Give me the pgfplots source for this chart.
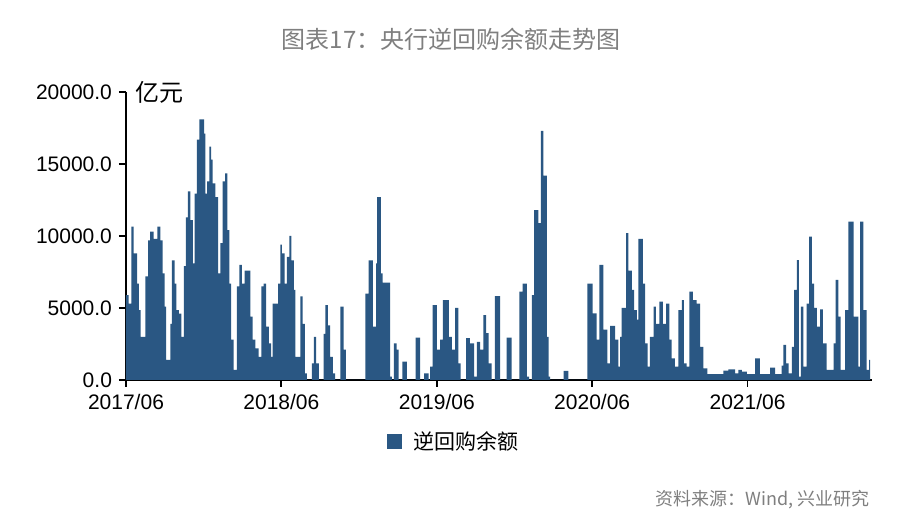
\documentclass[border=0pt]{standalone}
\usepackage{fontspec}
\setmainfont{Liberation Sans}
\newfontfamily\cjk{Noto Sans CJK SC}
\usepackage{pgfplots}
\pgfplotsset{compat=1.18}
\definecolor{barblue}{HTML}{2A5783}
\definecolor{titlegray}{HTML}{7F7F7F}

\begin{document}
\begin{tikzpicture}[x=1pt,y=1pt]
\useasboundingbox (0,0) rectangle (451,264);
\node[font=\cjk\fontsize{12}{12}\selectfont, text=titlegray] at (225.5,244.5) {图表17：央行逆回购余额走势图};
\node[font=\cjk\fontsize{9}{9}\selectfont, text=titlegray, anchor=east, inner sep=0pt] at (435,14) {资料来源：Wind, 兴业研究};

\begin{axis}[
  at={(63pt,74pt)}, anchor=south west,
  scale only axis, width=373pt, height=144pt,
  xmin=0, xmax=250.3, ymin=0, ymax=20000,
  axis x line=bottom, axis y line=left,
  axis line style={-, line width=0.9pt, black},
  xtick={0,52.14,104.28,156.42,208.56},
  xticklabels={2017/06,2018/06,2019/06,2020/06,2021/06},
  ytick={0,5000,10000,15000,20000},
  yticklabels={0.0,5000.0,10000.0,15000.0,20000.0},
  scaled y ticks=false,
  tick align=outside, major tick length=3.5pt,
  tick style={black, line width=0.9pt},
  ticklabel style={font=\fontsize{10.5}{10.5}\selectfont},
  legend style={at={(0.441,-0.215)}, anchor=center, draw=none, fill=none,
    font=\cjk\fontsize{10.5}{10.5}\selectfont},
  legend image code/.code={\fill[barblue] (0pt,-3.75pt) rectangle (7.5pt,3.75pt);},
  clip=false
]
% weekly reading of the reverse-repo balance (x: weeks since 2017/06)
\addplot[const plot, fill=barblue, draw=none] coordinates {
(0,5900) (0.9,5300) (1.8,10650) (2.6,8800) (3.7,6700) (4.3,4860) (4.9,3000)
(6.5,7200) (7.4,9700) (8.1,10300) (9.3,9800) (10.5,10650) (11.5,9700) (12.3,7400)
(13.0,5100) (13.5,1400) (14.9,3900) (15.4,8300) (16.3,6700) (16.9,4860) (17.7,4600)
(18.6,3000) (19.4,7900) (20.1,11300) (20.8,13100) (21.6,11100) (22.4,8100) (23.0,12950)
(23.8,16700) (24.6,18100) (26.2,17100) (26.6,12950) (27.2,13800) (28.0,16200) (28.6,15300)
(29.1,13650) (30.0,12700) (30.9,7400) (31.7,9500) (32.4,13800) (33.3,14350) (34.0,10400)
(34.7,6700) (35.3,2800) (36.1,700) (37.2,6500) (38.0,8000) (38.9,6700) (39.8,7600)
(41.7,4400) (42.5,2800) (43.4,2200) (44.5,1600) (45.4,6500) (46.2,6700) (47.0,3700)
(47.9,2550) (48.7,1600) (49.2,5300) (51.0,6700) (51.8,9400) (52.3,8800) (53.2,6700)
(54.0,8550) (54.8,10000) (55.5,8300) (56.3,6250) (56.8,1600) (58.5,5800) (59.3,3900)
(60.0,460) (60.7,0) (62.4,1150) (63.0,3000) (63.8,1150) (64.7,0) (66.3,3200)
(66.9,5200) (67.7,3800) (68.5,1600) (69.4,460) (70.2,0) (71.9,5100) (73.0,2100)
(73.8,0) (80.3,6000) (81.4,8300) (82.8,3700) (83.9,8100) (84.3,12700) (85.5,7400)
(86.1,6760) (88.6,230) (89.2,0) (89.9,2550) (90.8,2100) (91.5,0) (92.7,1270)
(94.2,0) (97.2,2940) (98.7,0) (100.0,460) (101.5,0) (102.0,930) (102.9,5200)
(104.3,2100) (105.4,2800) (106.3,5550) (108.3,3000) (109.3,2100) (110.4,5000) (111.5,1150)
(112.3,0) (114.1,2900) (115.4,2550) (116.8,230) (117.7,2650) (118.8,2100) (119.9,4500)
(120.8,3250) (121.7,1150) (122.7,0) (123.8,5830) (125.5,0) (127.7,2940) (129.4,0)
(132.0,6130) (133.1,6700) (134.5,230) (135.3,0) (136.2,5900) (136.9,11800) (138.4,10900)
(139.2,17300) (140.0,14200) (141.2,3000) (141.8,230) (142.3,0) (146.8,625) (148.4,0)
(154.8,6700) (156.6,4630) (157.9,2800) (158.8,8000) (160.2,3500) (161.5,1150) (162.4,3750)
(164.1,2800) (165.2,930) (165.8,3000) (166.3,5000) (167.8,10200) (168.6,7600) (169.7,6250)
(170.5,4860) (171.4,4200) (171.9,9800) (173.4,6700) (174.2,2550) (175.0,930) (175.8,3000)
(177.0,5100) (177.8,3900) (179.0,5440) (180.1,3900) (181.2,5300) (182.3,2800) (183.1,1500)
(184.2,930) (185.3,4860) (186.5,5550) (187.2,1150) (188.1,930) (189.0,6130) (190.2,5550)
(191.5,5300) (192.6,2300) (193.7,800) (195.1,400) (200.4,650) (202.1,740) (204.4,460)
(205.5,700) (206.6,580) (208.3,400) (211.1,1500) (212.7,400) (216.1,860) (217.8,400)
(220.0,1000) (220.6,2430) (221.5,1150) (222.3,460) (223.4,2300) (224.2,6250) (225.1,8330)
(225.8,230) (226.4,5100) (227.3,930) (228.4,5300) (229.2,9950) (230.1,6700) (230.9,5000)
(231.8,3700) (232.9,4900) (233.8,2550) (235.1,700) (237.4,2550) (238.1,6950) (239.0,4400)
(239.8,700) (241.3,4860) (242.4,11000) (244.1,4400) (245.7,930) (246.3,11000) (247.4,4860)
(248.5,700) (249.3,1400) (249.7,1400)
} \closedcycle;
\addlegendentry{\hspace{4pt}逆回购余额}
\node[anchor=west, font=\cjk\fontsize{12}{12}\selectfont] at (rel axis cs:0,1) [xshift=1pt] {亿元};
\end{axis}
\end{tikzpicture}
\end{document}
